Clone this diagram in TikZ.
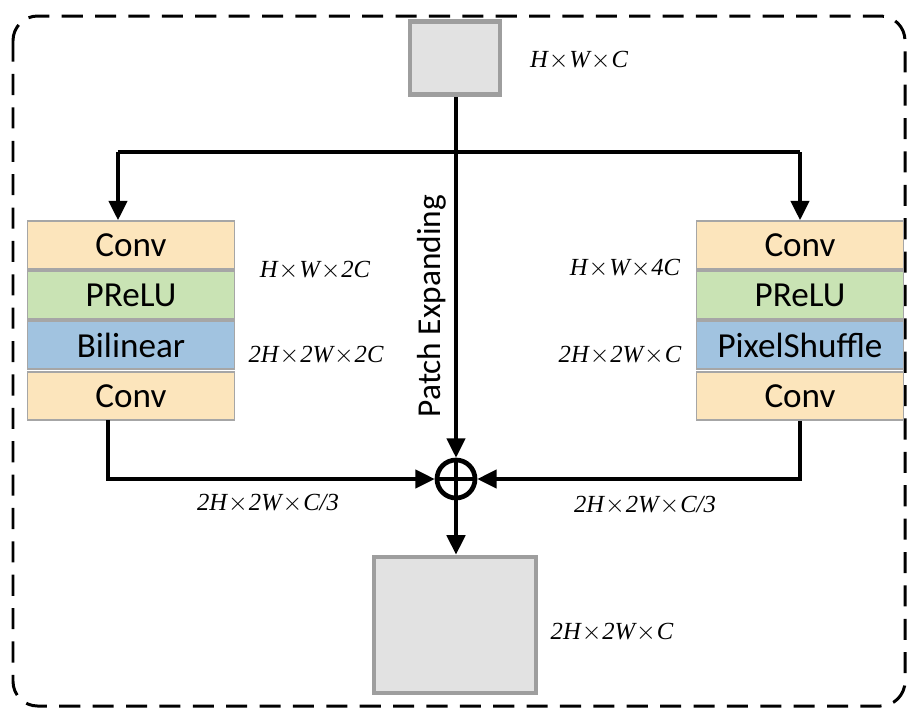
\documentclass[tikz,border=0pt]{standalone}
\usepackage{fontspec}
\setmainfont{Liberation Serif}
\newfontfamily\boxfont{Carlito}
\usetikzlibrary{arrows.meta}

\definecolor{convcol}{HTML}{FCE5BC}
\definecolor{relucol}{HTML}{C9E3B4}
\definecolor{upcol}{HTML}{A1C3E0}
\definecolor{edgegray}{HTML}{A6A6A6}
\definecolor{featgray}{HTML}{9E9E9E}
\definecolor{featfill}{HTML}{E2E2E2}

\newcommand{\tms}{\kern0.04em$\times$\kern0.04em}

\tikzset{
  layer/.style={draw=edgegray, line width=1pt, minimum width=4.14cm,
    minimum height=0.96cm, inner sep=0pt, font=\boxfont\fontsize{20}{22}\selectfont},
  feat/.style={draw=featgray, fill=featfill, line width=2.8pt, inner sep=0pt},
  dimtext/.style={font=\fontsize{14}{16}\selectfont\itshape, inner sep=0pt},
  link/.style={line width=1.9pt, -{Triangle[length=11pt,width=10.5pt]}},
  wire/.style={line width=1.9pt}
}

\begin{document}
\begin{tikzpicture}[x=0.02cm, y=-0.02cm]

  \useasboundingbox (0,0) rectangle (909,708);
  \draw[line width=1.7pt, dash pattern=on 12pt off 7pt, rounded corners=14pt]
    (13,16) rectangle (905,706);

  % input and output features
  \node[feat, minimum width=1.8cm, minimum height=1.46cm] (inp) at (455,58) {};
  \node[dimtext] (inplab) at (579,60) {H\tms W\tms C};
  \node[feat, minimum width=3.24cm, minimum height=2.72cm] (outp) at (455,625) {};
  \node[dimtext] (outlab) at (612,632) {2H\tms 2W\tms C};

  % left branch
  \node[layer, fill=convcol] (lconv1) at (131,245) {Conv};
  \node[layer, fill=relucol] (lrelu) at (131,295) {PReLU};
  \node[layer, fill=upcol] (lup) at (131,345) {Bilinear};
  \node[layer, fill=convcol] (lconv2) at (131,396) {Conv};
  \node[dimtext] (llab1) at (315,270) {H\tms W\tms 2C};
  \node[dimtext] (llab2) at (316,355) {2H\tms 2W\tms 2C};

  % right branch
  \node[layer, fill=convcol] (rconv1) at (800,245) {Conv};
  \node[layer, fill=relucol] (rrelu) at (800,295) {PReLU};
  \node[layer, fill=upcol] (rup) at (800,345) {PixelShuffle};
  \node[layer, fill=convcol] (rconv2) at (800,396) {Conv};
  \node[dimtext] (rlab1) at (625,268) {H\tms W\tms 4C};
  \node[dimtext] (rlab2) at (620,355) {2H\tms 2W\tms C};

  % sum
  \node[draw, circle, line width=2.7pt, minimum size=0.76cm, inner sep=0pt] (sum) at (456,479) {};
  \draw[line width=2pt] (sum.north) -- (sum.south) (sum.west) -- (sum.east);
  \node[font=\boxfont\fontsize{19}{21}\selectfont, rotate=90, inner sep=0pt]
    (patch) at (432,306) {Patch Expanding};
  \node[dimtext] (sumlab1) at (268,503) {2H\tms 2W\tms C/3};
  \node[dimtext] (sumlab2) at (645,505) {2H\tms 2W\tms C/3};

  \coordinate (split) at (456,152);
  \coordinate (lsplit) at (118,152);
  \coordinate (lout) at (108,420);

  \draw[link] (inp.south -| sum.north) -- (sum.north);
  \draw[wire] (lsplit) -- (split -| rconv1.north);
  \draw[link] (lsplit) -- (lsplit |- lconv1.north);
  \draw[link] (split -| rconv1.north) -- (rconv1.north);
  \draw[link] (lout) |- (sum.west);
  \draw[link] (rconv2.south) |- (sum.east);
  \draw[link] (sum.south) -- (sum.south |- outp.north);

\end{tikzpicture}
\end{document}
